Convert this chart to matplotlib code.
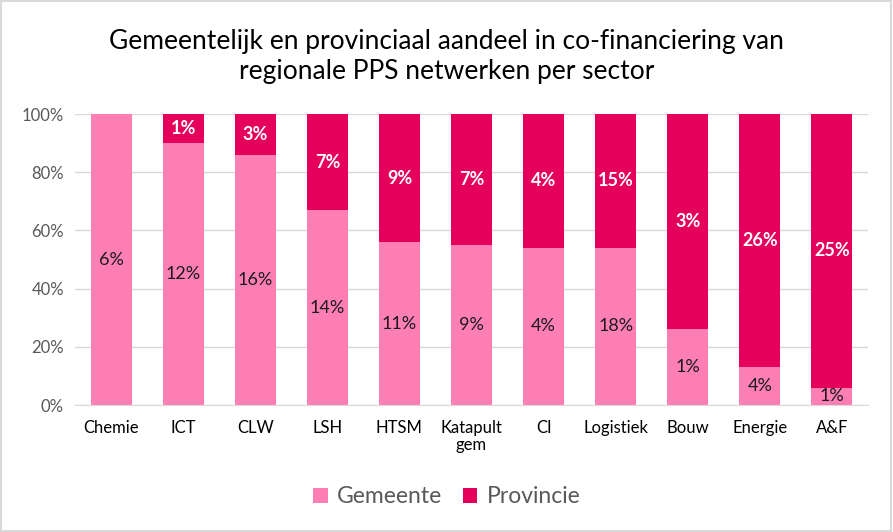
import numpy as np
import matplotlib.pyplot as plt
from matplotlib.patches import Rectangle

plt.rcParams['font.family'] = ['Lato', 'DejaVu Sans']

# sectors and the gemeente share of each bar (rest is provincie)
sectors = ['Chemie', 'ICT', 'CLW', 'LSH', 'HTSM', 'Katapult\ngem', 'CI',
           'Logistiek', 'Bouw', 'Energie', 'A&F']
gemeente = [100, 90, 86, 67, 56, 55, 54, 54, 26, 13, 6]
provincie = [100 - g for g in gemeente]

# data labels as shown in the chart
gem_labels = ['6%', '12%', '16%', '14%', '11%', '9%', '4%', '18%', '1%', '4%', '1%']
prov_labels = ['', '1%', '3%', '7%', '9%', '7%', '4%', '15%', '3%', '26%', '25%']

c_gem = '#FF7FB5'
c_prov = '#E5005C'

fig = plt.figure(figsize=(8.93, 5.32), dpi=100)
ax = fig.add_axes([0.084, 0.2387, 0.888, 0.547])

x = np.arange(len(sectors))
ax.bar(x, gemeente, width=0.57, color=c_gem, label='Gemeente', zorder=3)
ax.bar(x, provincie, width=0.57, bottom=gemeente, color=c_prov,
       label='Provincie', zorder=3)

for i in range(len(sectors)):
    ax.text(x[i], gemeente[i] / 2, gem_labels[i], ha='center', va='center',
            fontsize=13, color='#1a1a1a', zorder=4)
    if prov_labels[i]:
        ax.text(x[i], gemeente[i] + provincie[i] / 2, prov_labels[i],
                ha='center', va='center', fontsize=13, color='white',
                fontweight='bold', zorder=4)

ax.set_xlim(-0.5, len(sectors) - 0.5)
ax.set_ylim(0, 100)
ax.set_yticks(range(0, 101, 20))
ax.set_yticklabels([f'{v}%' for v in range(0, 101, 20)])
ax.set_xticks(x)
ax.set_xticklabels(sectors, va='top', linespacing=1.05)
ax.tick_params(axis='both', length=0, labelsize=12, colors='#595959')
ax.tick_params(axis='x', pad=11, labelcolor='#000000')
ax.tick_params(axis='y', pad=8)
ax.grid(axis='y', color='#D9D9D9', linewidth=1, zorder=0)
for s in ax.spines.values():
    s.set_visible(False)
ax.spines['bottom'].set_visible(True)
ax.spines['bottom'].set_color('#D9D9D9')

fig.text(0.5, 0.893, 'Gemeentelijk en provinciaal aandeel in co-financiering van\nregionale PPS netwerken per sector',
         ha='center', va='center', fontsize=19, color='#000000', linespacing=1.25)

fig.legend(loc='center', bbox_to_anchor=(0.5, 0.066), ncol=2, frameon=False,
           fontsize=16.5, labelcolor='#595959', handlelength=0.65, handleheight=0.65,
           columnspacing=0.9, handletextpad=0.4)

fig.patches.append(Rectangle((0.001, 0.001), 0.997, 0.997, transform=fig.transFigure,
                             fill=False, edgecolor='#D9D9D9', linewidth=1.5))

plt.savefig('out.png', dpi=100)
